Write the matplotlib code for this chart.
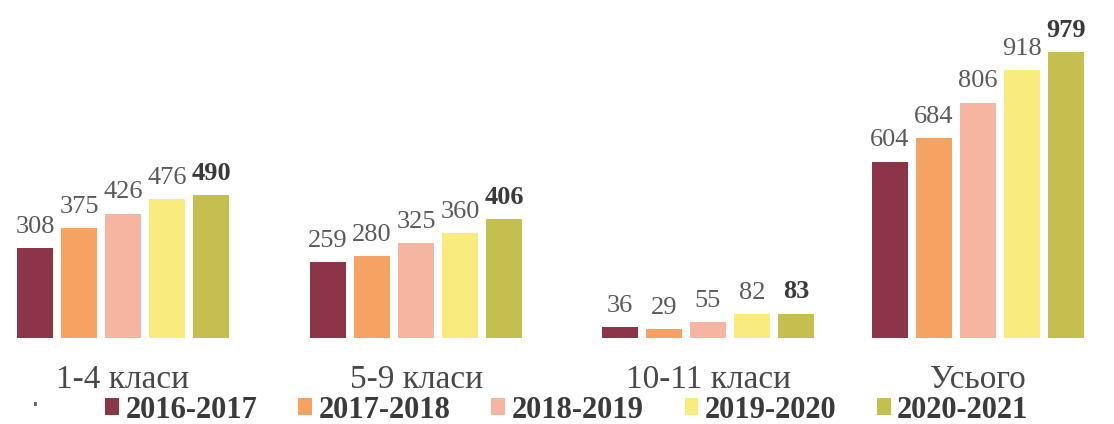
import matplotlib.pyplot as plt
from matplotlib.patches import Patch
import numpy as np

# categories and values
categories = ['1-4 класи', '5-9 класи', '10-11 класи', 'Усього']
years = ['2016-2017', '2017-2018', '2018-2019', '2019-2020', '2020-2021']
v_2016 = [308, 259, 36, 604]
v_2017 = [375, 280, 29, 684]
v_2018 = [426, 325, 55, 806]
v_2019 = [476, 360, 82, 918]
v_2020 = [490, 406, 83, 979]
series = [v_2016, v_2017, v_2018, v_2019, v_2020]

colors = ['#8c3448', '#f5a262', '#f5b5a0', '#f9eb7e', '#c4bf4e']

serif = ['Liberation Serif', 'DejaVu Serif']

fig = plt.figure(figsize=(11.14, 4.24), dpi=100)
ax = fig.add_axes([0, 0.203, 1, 0.797])

# group layout (in pixel-like x units)
group_x = np.array([123, 416, 708, 978])
step = 44
width = 36

for i, (vals, col) in enumerate(zip(series, colors)):
    xs = group_x + (i - 2) * step
    ax.bar(xs, vals, width=width, color=col, edgecolor='none')
    for xi, v in zip(xs, vals):
        ax.annotate(str(v), (xi, v), xytext=(0, 11), textcoords='offset points',
                    ha='center', va='baseline', fontsize=19, family=serif,
                    color='#5a5a5a' if i < 4 else '#3a3a3a',
                    fontweight='bold' if i == 4 else 'normal')

ax.set_xlim(0, 1114)
ax.set_ylim(0, 1157)
ax.axis('off')

# category labels under the groups
for xi, cat in zip(group_x, categories):
    ax.text(xi, -142, cat, ha='center', va='center',
            fontsize=24, family=serif, color='#484848')

handles = [Patch(facecolor=c, edgecolor='none') for c in colors]
fig.legend(handles, years, loc='center', bbox_to_anchor=(0.509, 0.033), ncol=5,
           frameon=False, handlelength=0.45, handleheight=0.45, handletextpad=0.2,
           columnspacing=1.35, prop={'family': serif, 'size': 22, 'weight': 'bold'},
           labelcolor='#3a3a3a')

fig.text(35 / 1114, 1 - 406 / 424, '·', ha='center', va='center',
         fontsize=20, color='#666666')

fig.savefig('out.png', dpi=100)
